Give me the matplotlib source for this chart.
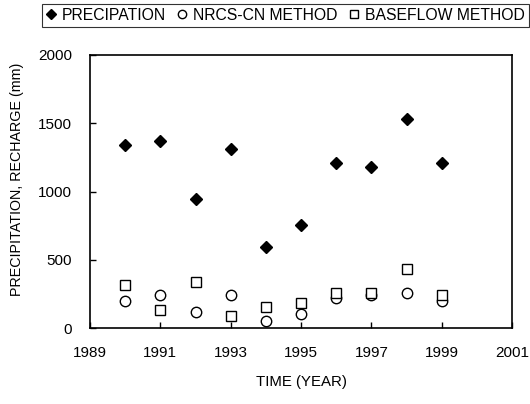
import matplotlib
matplotlib.use("Agg")
import matplotlib.pyplot as plt

plt.rcParams['font.family'] = ['Liberation Sans', 'DejaVu Sans']

years = [1990, 1991, 1992, 1993, 1994, 1995, 1996, 1997, 1998, 1999]
precipitation = [1340, 1372, 945, 1310, 596, 755, 1210, 1180, 1532, 1210]
nrcs_cn = [200, 245, 117, 239, 48, 105, 218, 244, 259, 198]
baseflow = [315, 134, 334, 85, 151, 183, 255, 258, 434, 240]

x_ticks = [1989, 1991, 1993, 1995, 1997, 1999, 2001]
y_ticks = [0, 500, 1000, 1500, 2000]

fig = plt.figure(figsize=(5.30, 4.04), dpi=100)
ax = fig.add_axes([90/530, 1-328/404, 422/530, 273/404])

ax.plot(years, precipitation, linestyle='none', marker='D', ms=6.5,
        mfc='black', mec='black', label='PRECIPATION')
ax.plot(years, nrcs_cn, linestyle='none', marker='o', ms=7.5,
        mfc='white', mec='black', mew=1.0, label='NRCS-CN METHOD')
ax.plot(years, baseflow, linestyle='none', marker='s', ms=7.5,
        mfc='white', mec='black', mew=1.0, label='BASEFLOW METHOD')

ax.set_xlim(1989, 2001)
ax.set_ylim(0, 2000)
ax.set_xticks(x_ticks)
ax.set_yticks(y_ticks)
ax.tick_params(direction='in', length=4, width=1.0, labelsize=11, colors='black')
ax.tick_params(axis='y', pad=13)
ax.tick_params(axis='x', pad=13)
for s in ax.spines.values():
    s.set_linewidth(1.2)

fig.text(301/530, 1-382/404, 'TIME (YEAR)', ha='center', va='center', fontsize=10.8)
fig.text(17/530, 1-179/404, 'PRECIPITATION, RECHARGE (mm)', ha='center', va='center',
         rotation=90, fontsize=10.3)

h, l = ax.get_legend_handles_labels()
leg = fig.legend(h, l, loc='upper left', bbox_to_anchor=(42/530, 1-4/404), ncol=3,
                 frameon=True, fancybox=False, fontsize=11.3, handlelength=0.6,
                 handletextpad=0.4, columnspacing=0.75, borderpad=0.25,
                 borderaxespad=0, markerscale=0.8)
leg.get_frame().set_edgecolor('black')
leg.get_frame().set_linewidth(0.8)

fig.savefig('out.png', dpi=100)
